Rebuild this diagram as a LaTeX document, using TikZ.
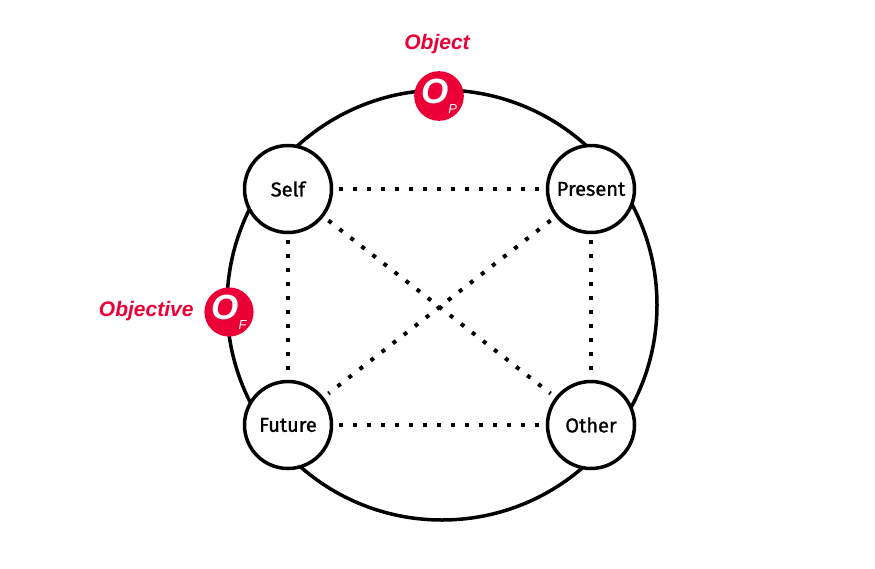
\documentclass[tikz,border=0pt]{standalone}
\usepackage{fontspec}
\setmainfont{Fira Sans}
\newfontfamily\labfont[FakeBold=1.2]{Fira Sans}
\newfontfamily\redfont{Liberation Sans}
\definecolor{ored}{RGB}{234,0,55}
\begin{document}
\begin{tikzpicture}[x=1pt,y=-1pt,
  term/.style={circle,draw=black,line width=3.5pt,fill=white,minimum size=87pt,inner sep=0pt,font=\labfont\fontsize{20}{22}\selectfont},
  badge/.style={circle,fill=ored,minimum size=46pt,inner sep=0pt,text=white},
  redlabel/.style={text=ored,font=\redfont\bfseries\itshape\fontsize{21}{24}\selectfont},
  dotline/.style={line width=4pt,dash pattern=on 4pt off 10pt,shorten >=6pt,shorten <=6pt}]
\useasboundingbox (0,0) rectangle (875,568);
\node[circle,draw=black,line width=3.5pt,minimum size=430pt,inner sep=0pt] (big) at (442,305) {};
\node[term] (self) at (288,189) {Self};
\node[term] (present) at (591,189) {Present};
\node[term] (future) at (288,425) {Future};
\node[term] (other) at (591,425) {Other};
\draw[dotline] (self) -- (present);
\draw[dotline] (future) -- (other);
\draw[dotline] (self) -- (future);
\draw[dotline] (present) -- (other);
\draw[dotline] (self) -- (other);
\draw[dotline] (present) -- (future);
\node[badge] (op) at (439,96) {\redfont\bfseries\itshape\fontsize{35}{35}\selectfont O\raisebox{-0.55ex}{\mdseries\fontsize{13}{13}\selectfont P}};
\node[badge] (of) at (229,312) {\redfont\bfseries\itshape\fontsize{35}{35}\selectfont O\raisebox{-0.55ex}{\mdseries\fontsize{13}{13}\selectfont F}};
\node[redlabel] (objlbl) at (437,44) {Object};
\node[redlabel,anchor=east] (objvlbl) at (197,311) {Objective};
\end{tikzpicture}
\end{document}
